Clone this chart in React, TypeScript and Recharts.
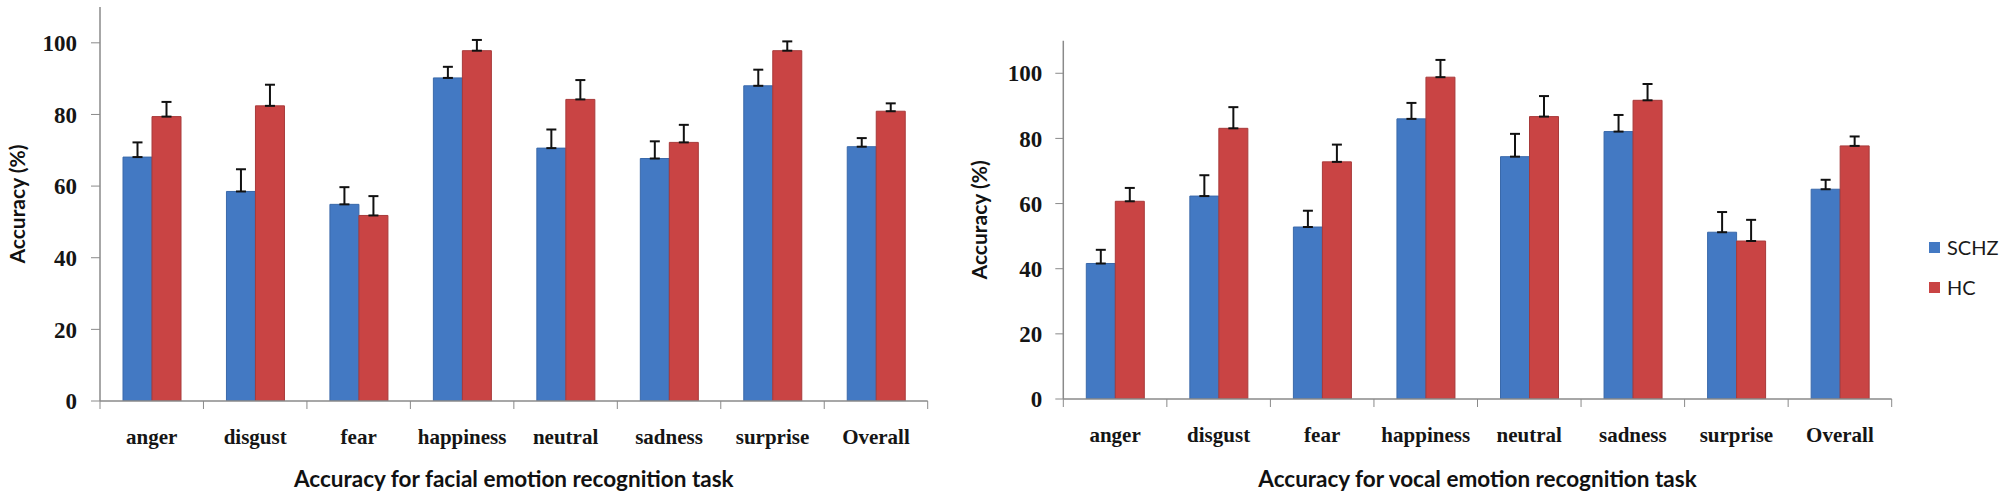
import React from 'react';
import { BarChart, Bar, XAxis, YAxis, ErrorBar, Legend, Label } from 'recharts';

const categories = ['anger', 'disgust', 'fear', 'happiness', 'neutral', 'sadness', 'surprise', 'Overall'];

const facialSCHZ = [68.1, 58.5, 54.9, 90.2, 70.6, 67.7, 88.0, 71.0];
const facialSCHZErr = [4.1, 6.2, 4.8, 3.1, 5.2, 4.8, 4.5, 2.4];
const facialHC = [79.4, 82.4, 51.8, 97.8, 84.2, 72.2, 97.8, 80.9];
const facialHCErr = [4.1, 5.9, 5.4, 3.0, 5.4, 4.9, 2.6, 2.2];

const vocalSCHZ = [41.6, 62.3, 52.8, 86.0, 74.4, 82.1, 51.2, 64.4];
const vocalSCHZErr = [4.2, 6.4, 5.0, 4.9, 7.0, 5.1, 6.2, 2.9];
const vocalHC = [60.7, 83.1, 72.8, 98.8, 86.7, 91.7, 48.5, 77.7];
const vocalHCErr = [4.1, 6.5, 5.3, 5.3, 6.3, 5.0, 6.5, 2.9];

const yTicks = [0, 20, 40, 60, 80, 100];
const yDomain = [0, 110];
const seriesNames = ['SCHZ', 'HC'];
const facialTitle = 'Accuracy for facial emotion recognition task';
const vocalTitle = 'Accuracy for vocal emotion recognition task';
const yTitle = 'Accuracy (%)';

const BLUE = '#4379C3';
const BLUE_EDGE = '#3A69AA';
const RED = '#C94444';
const RED_EDGE = '#A83A3A';
const AXIS = '#8A8A8A';
const SERIF = '"Liberation Serif", "Times New Roman", serif';
const SANS = 'Lato, "Open Sans", sans-serif';
const LABEL_GAP = 28;
const BOUNDARY_TICK = 8;

function buildRows(schz: number[], schzErr: number[], hc: number[], hcErr: number[]) {
  return categories.map((c, i) => ({
    category: c,
    [seriesNames[0]]: schz[i],
    schzErr: [0, schzErr[i]],
    [seriesNames[1]]: hc[i],
    hcErr: [0, hcErr[i]],
  }));
}

const facialRows = buildRows(facialSCHZ, facialSCHZErr, facialHC, facialHCErr);
const vocalRows = buildRows(vocalSCHZ, vocalSCHZErr, vocalHC, vocalHCErr);

const CategoryTick = (props: any) => {
  const { x, y, payload, index, visibleTicksCount, width } = props;
  const half =
    payload && typeof payload.offset === 'number' && payload.offset > 0
      ? payload.offset
      : width / (visibleTicksCount || categories.length) / 2;
  const axisY = y - LABEL_GAP;
  const isLast = index === (visibleTicksCount || categories.length) - 1;
  return (
    <g>
      <line x1={x - half} y1={axisY} x2={x - half} y2={axisY + BOUNDARY_TICK} stroke={AXIS} strokeWidth={1} />
      {isLast ? (
        <line x1={x + half} y1={axisY} x2={x + half} y2={axisY + BOUNDARY_TICK} stroke={AXIS} strokeWidth={1} />
      ) : null}
      <text
        x={x}
        y={y}
        dy="0.71em"
        textAnchor="middle"
        fontFamily={SERIF}
        fontSize={21}
        fontWeight={700}
        fill="#151515"
      >
        {payload.value}
      </text>
    </g>
  );
};

const renderLegend = (props: any) => {
  const payload = [...(props.payload || [])].sort(
    (a: any, b: any) => seriesNames.indexOf(a.value) - seriesNames.indexOf(b.value)
  );
  return (
    <div style={{ fontFamily: SANS, fontSize: 20, color: '#1a1a1a' }}>
      {payload.map((p: any) => (
        <div key={p.value} style={{ display: 'flex', alignItems: 'center', height: 40 }}>
          <span style={{ display: 'inline-block', width: 11, height: 11, background: p.color, marginRight: 7 }} />
          <span>{p.value}</span>
        </div>
      ))}
    </div>
  );
};

type PanelProps = {
  rows: any[];
  title: string;
  width: number;
  height: number;
  top: number;
  right: number;
  yAxisWidth: number;
  xAxisHeight: number;
  yTickSize: number;
  yTickMargin: number;
  yLabelX: number;
  titleDy: number;
  legend?: { left: number; top: number };
};

function Panel(p: PanelProps) {
  return (
    <BarChart
      width={p.width}
      height={p.height}
      data={p.rows}
      margin={{ top: p.top, right: p.right, bottom: 0, left: 0 }}
      barGap={0}
      barSize={29}
    >
      <XAxis
        dataKey="category"
        height={p.xAxisHeight}
        interval={0}
        axisLine={{ stroke: AXIS, strokeWidth: 1.5 }}
        tickLine={false}
        tickSize={0}
        tickMargin={LABEL_GAP}
        tick={<CategoryTick />}
      >
        <Label
          content={(lp: any) => {
            const vb = lp.viewBox || { x: 0, y: 0, width: 0, height: 0 };
            return (
              <text
                x={vb.x + vb.width / 2}
                y={vb.y + p.titleDy}
                textAnchor="middle"
                fontFamily={SANS}
                fontSize={22.5}
                fontWeight={700}
                fill="#111"
              >
                {p.title}
              </text>
            );
          }}
        />
      </XAxis>
      <YAxis
        width={p.yAxisWidth}
        domain={yDomain}
        ticks={yTicks}
        allowDataOverflow
        axisLine={{ stroke: AXIS, strokeWidth: 1.5 }}
        tickLine={{ stroke: AXIS, strokeWidth: 1 }}
        tickSize={p.yTickSize}
        tickMargin={p.yTickMargin}
        tick={{ fontFamily: SERIF, fontSize: 23, fontWeight: 700, fill: '#151515' }}
      >
        <Label
          content={(lp: any) => {
            const vb = lp.viewBox || { x: 0, y: 0, width: 0, height: 0 };
            const cy = vb.y + vb.height / 2;
            return (
              <text
                x={p.yLabelX}
                y={cy}
                transform={`rotate(-90, ${p.yLabelX}, ${cy})`}
                textAnchor="middle"
                fontFamily={SANS}
                fontSize={21}
                fontWeight={700}
                fill="#111"
              >
                {yTitle}
              </text>
            );
          }}
        />
      </YAxis>
      <Bar dataKey={seriesNames[0]} name={seriesNames[0]} fill={BLUE} stroke={BLUE_EDGE} strokeWidth={1} isAnimationActive={false}>
        <ErrorBar dataKey="schzErr" width={5} stroke="#111" strokeWidth={2} direction="y" />
      </Bar>
      <Bar dataKey={seriesNames[1]} name={seriesNames[1]} fill={RED} stroke={RED_EDGE} strokeWidth={1} isAnimationActive={false}>
        <ErrorBar dataKey="hcErr" width={5} stroke="#111" strokeWidth={2} direction="y" />
      </Bar>
      {p.legend ? (
        <Legend
          layout="vertical"
          align="center"
          verticalAlign="middle"
          content={renderLegend}
          wrapperStyle={{ left: p.legend.left, top: p.legend.top, width: 90 }}
        />
      ) : null}
    </BarChart>
  );
}

export default function App() {
  return (
    <div style={{ position: 'absolute', left: 0, top: 0, width: 2000, height: 498, background: '#fff' }}>
      <div style={{ position: 'absolute', left: 0, top: 0 }}>
        <Panel
          rows={facialRows}
          title={facialTitle}
          width={960}
          height={498}
          top={7}
          right={32.3}
          yAxisWidth={100}
          xAxisHeight={97}
          yTickSize={9}
          yTickMargin={14}
          yLabelX={25}
          titleDy={86}
        />
      </div>
      <div style={{ position: 'absolute', left: 960, top: 0 }}>
        <Panel
          rows={vocalRows}
          title={vocalTitle}
          width={1040}
          height={498}
          top={40.7}
          right={108.3}
          yAxisWidth={103.3}
          xAxisHeight={99}
          yTickSize={8}
          yTickMargin={13}
          yLabelX={27}
          titleDy={87.5}
          legend={{ left: 969, top: 227 }}
        />
      </div>
    </div>
  );
}
